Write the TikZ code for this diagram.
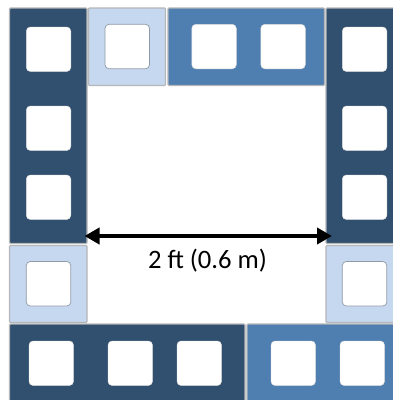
\documentclass[tikz,border=0pt]{standalone}
\usepackage{fontspec}
\setmainfont{Carlito}
\usetikzlibrary{arrows.meta}
\definecolor{darkpanel}{HTML}{31506F}
\definecolor{midpanel}{HTML}{4F7FB0}
\definecolor{lightpanel}{HTML}{C6D8EF}
\definecolor{edgegray}{HTML}{B4B6B8}
\definecolor{winedge}{HTML}{8F9AA8}
\tikzset{
  x=1pt,y=-1pt,
  panel/.style={draw=edgegray,line width=1.2pt,rounded corners=1pt},
  darkp/.style={panel,fill=darkpanel},
  midp/.style={panel,fill=midpanel},
  lightp/.style={panel,fill=lightpanel},
  win/.style={fill=white,draw=white!85!black,line width=0.4pt,rounded corners=4pt},
  winl/.style={fill=white,draw=winedge,line width=0.7pt,rounded corners=4pt},
}
\newcommand{\wn}[3][win]{\draw[#1] (#2,#3) rectangle ++(44.5,44.5);}
\begin{document}
\begin{tikzpicture}
\useasboundingbox (0,0) rectangle (393,400);
\clip (0,0) rectangle (393,400);
% panels
\draw[darkp] (9.5,8) rectangle (87,243.5);
\draw[lightp] (88.5,8) rectangle (165.5,85.5);
\draw[midp] (168,8) rectangle (324.5,85.5);
\draw[darkp] (326,8) rectangle (400,243.5);
\draw[lightp] (9.5,245.5) rectangle (87,322.5);
\draw[lightp] (326,245.5) rectangle (400,322.5);
\draw[darkp] (9.5,324) rectangle (245,410);
\draw[midp] (247,324) rectangle (400,410);
% windows
\wn{26.3}{27} \wn{26.3}{106} \wn{26.3}{175}
\wn[winl]{105}{24.3}
\wn{191.8}{24.3} \wn{260.8}{24.3}
\wn{342.3}{27} \wn{342.3}{106} \wn{342.3}{175}
\wn[winl]{26.3}{261.5} \wn[winl]{342.3}{261.5}
\wn{29}{341} \wn{108}{341} \wn{177}{341}
\wn{271}{341} \wn{340}{341}
% dimension
\coordinate (dimL) at (84.5,236);
\coordinate (dimR) at (332,236);
\draw[line width=4.5pt,black,{Triangle[length=15pt,width=16pt]}-{Triangle[length=15pt,width=16pt]}] (dimL) -- (dimR);
\node[inner sep=0pt,font=\fontsize{26.6}{30}\selectfont] (dimtext) at (207.5,261) {2 ft (0.6 m)};
\end{tikzpicture}
\end{document}
